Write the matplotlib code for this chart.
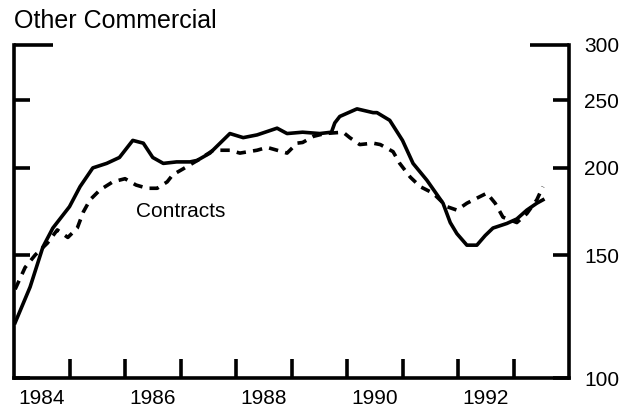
import matplotlib
matplotlib.use('Agg')
import matplotlib.pyplot as plt
from matplotlib.ticker import FixedLocator, NullFormatter, FixedFormatter

plt.rcParams['font.family'] = ['Liberation Sans', 'DejaVu Sans']

# solid line (unlabeled series), decimal years
solid_t = [1984.02, 1984.29, 1984.52, 1984.70, 1985.00, 1985.19, 1985.42, 1985.67,
           1985.90, 1986.14, 1986.33, 1986.50, 1986.69, 1986.93, 1987.17, 1987.30,
           1987.53, 1987.89, 1988.13, 1988.38, 1988.74, 1988.92, 1989.20, 1989.51,
           1989.72, 1989.78, 1989.87, 1990.18, 1990.47, 1990.54, 1990.77, 1991.00,
           1991.19, 1991.44, 1991.73, 1991.86, 1991.98, 1992.16, 1992.34, 1992.49,
           1992.63, 1992.88, 1993.06, 1993.24, 1993.42, 1993.53]
solid_v = [120, 135, 154, 164, 176, 188, 200, 203,
           207, 219, 217, 207, 203, 204, 204, 205,
           210, 224, 221, 223, 228, 224, 225, 224,
           225, 232, 237, 243, 240, 240, 234, 219,
           203, 192, 178, 167, 161, 155, 155, 160,
           164, 166.5, 169, 174, 178, 180]

# Contracts (dashed)
contr_t = [1984.02, 1984.20, 1984.38, 1984.60, 1984.78, 1984.97, 1985.14, 1985.25,
           1985.37, 1985.55, 1985.78, 1986.00, 1986.20, 1986.40, 1986.58, 1986.76,
           1986.86, 1987.03, 1987.35, 1987.59, 1987.89, 1988.07, 1988.38, 1988.56,
           1988.74, 1988.92, 1989.10, 1989.20, 1989.40, 1989.60, 1989.93, 1990.05,
           1990.23, 1990.47, 1990.60, 1990.83, 1990.95, 1991.14, 1991.32, 1991.55,
           1991.80, 1991.98, 1992.16, 1992.34, 1992.52, 1992.67, 1992.81, 1993.06,
           1993.24, 1993.42, 1993.53]
contr_v = [134, 144, 150, 156, 163, 159, 164, 173,
           180, 186, 191, 193, 189, 187, 187, 191,
           195.5, 199, 206, 212, 212, 210, 212, 214,
           212, 210, 217, 217.5, 222, 224, 225, 221,
           216, 217, 216, 211, 203, 194, 188, 184,
           176, 174, 178, 181, 184, 178, 170, 167,
           172, 180, 188]

yticks = [100, 150, 200, 250, 300]
year_ticks = list(range(1985, 1994))
year_label_pos = [1984.5, 1986.5, 1988.5, 1990.5, 1992.5]
year_labels = ['1984', '1986', '1988', '1990', '1992']

fig = plt.figure(figsize=(6.43, 4.17), dpi=100)
ax = fig.add_axes([14/643, 39/417, 555/643, 333/417])

ax.plot(solid_t, solid_v, color='black', lw=2.6, solid_joinstyle='round')
ax.plot(contr_t, contr_v, color='black', lw=2.6, dashes=(2.6, 2.0))

ax.set_yscale('log')
ax.set_ylim(100, 300)
ax.set_xlim(1984, 1994)

ax.spines['top'].set_visible(False)
for s in ['left', 'right', 'bottom']:
    ax.spines[s].set_linewidth(2.6)

ax.yaxis.set_major_locator(FixedLocator(yticks))
ax.yaxis.set_minor_locator(FixedLocator([]))
ax.yaxis.set_major_formatter(FixedFormatter([str(v) for v in yticks]))
ax.yaxis.set_minor_formatter(NullFormatter())
ax.tick_params(axis='y', which='major', direction='in', length=11.5, width=2.6,
               left=True, right=True, labelleft=False, labelright=True,
               labelsize=15, pad=11)
t300 = ax.yaxis.get_major_ticks()[-1]
t300.tick1line.set_markersize(28)
t300.tick2line.set_markersize(28)

ax.xaxis.set_major_locator(FixedLocator(year_ticks))
ax.xaxis.set_major_formatter(NullFormatter())
ax.xaxis.set_minor_locator(FixedLocator(year_label_pos))
ax.xaxis.set_minor_formatter(FixedFormatter(year_labels))
ax.tick_params(axis='x', which='major', direction='in', length=14, width=2.6)
ax.tick_params(axis='x', which='minor', length=0, labelsize=15, pad=8)

fig.text(14/643, 1 - 28/417, 'Other Commercial', fontsize=18, ha='left', va='baseline')
ax.text(1987.0, 173, 'Contracts', fontsize=15, ha='center', va='center')

fig.savefig('out.png', dpi=100)
